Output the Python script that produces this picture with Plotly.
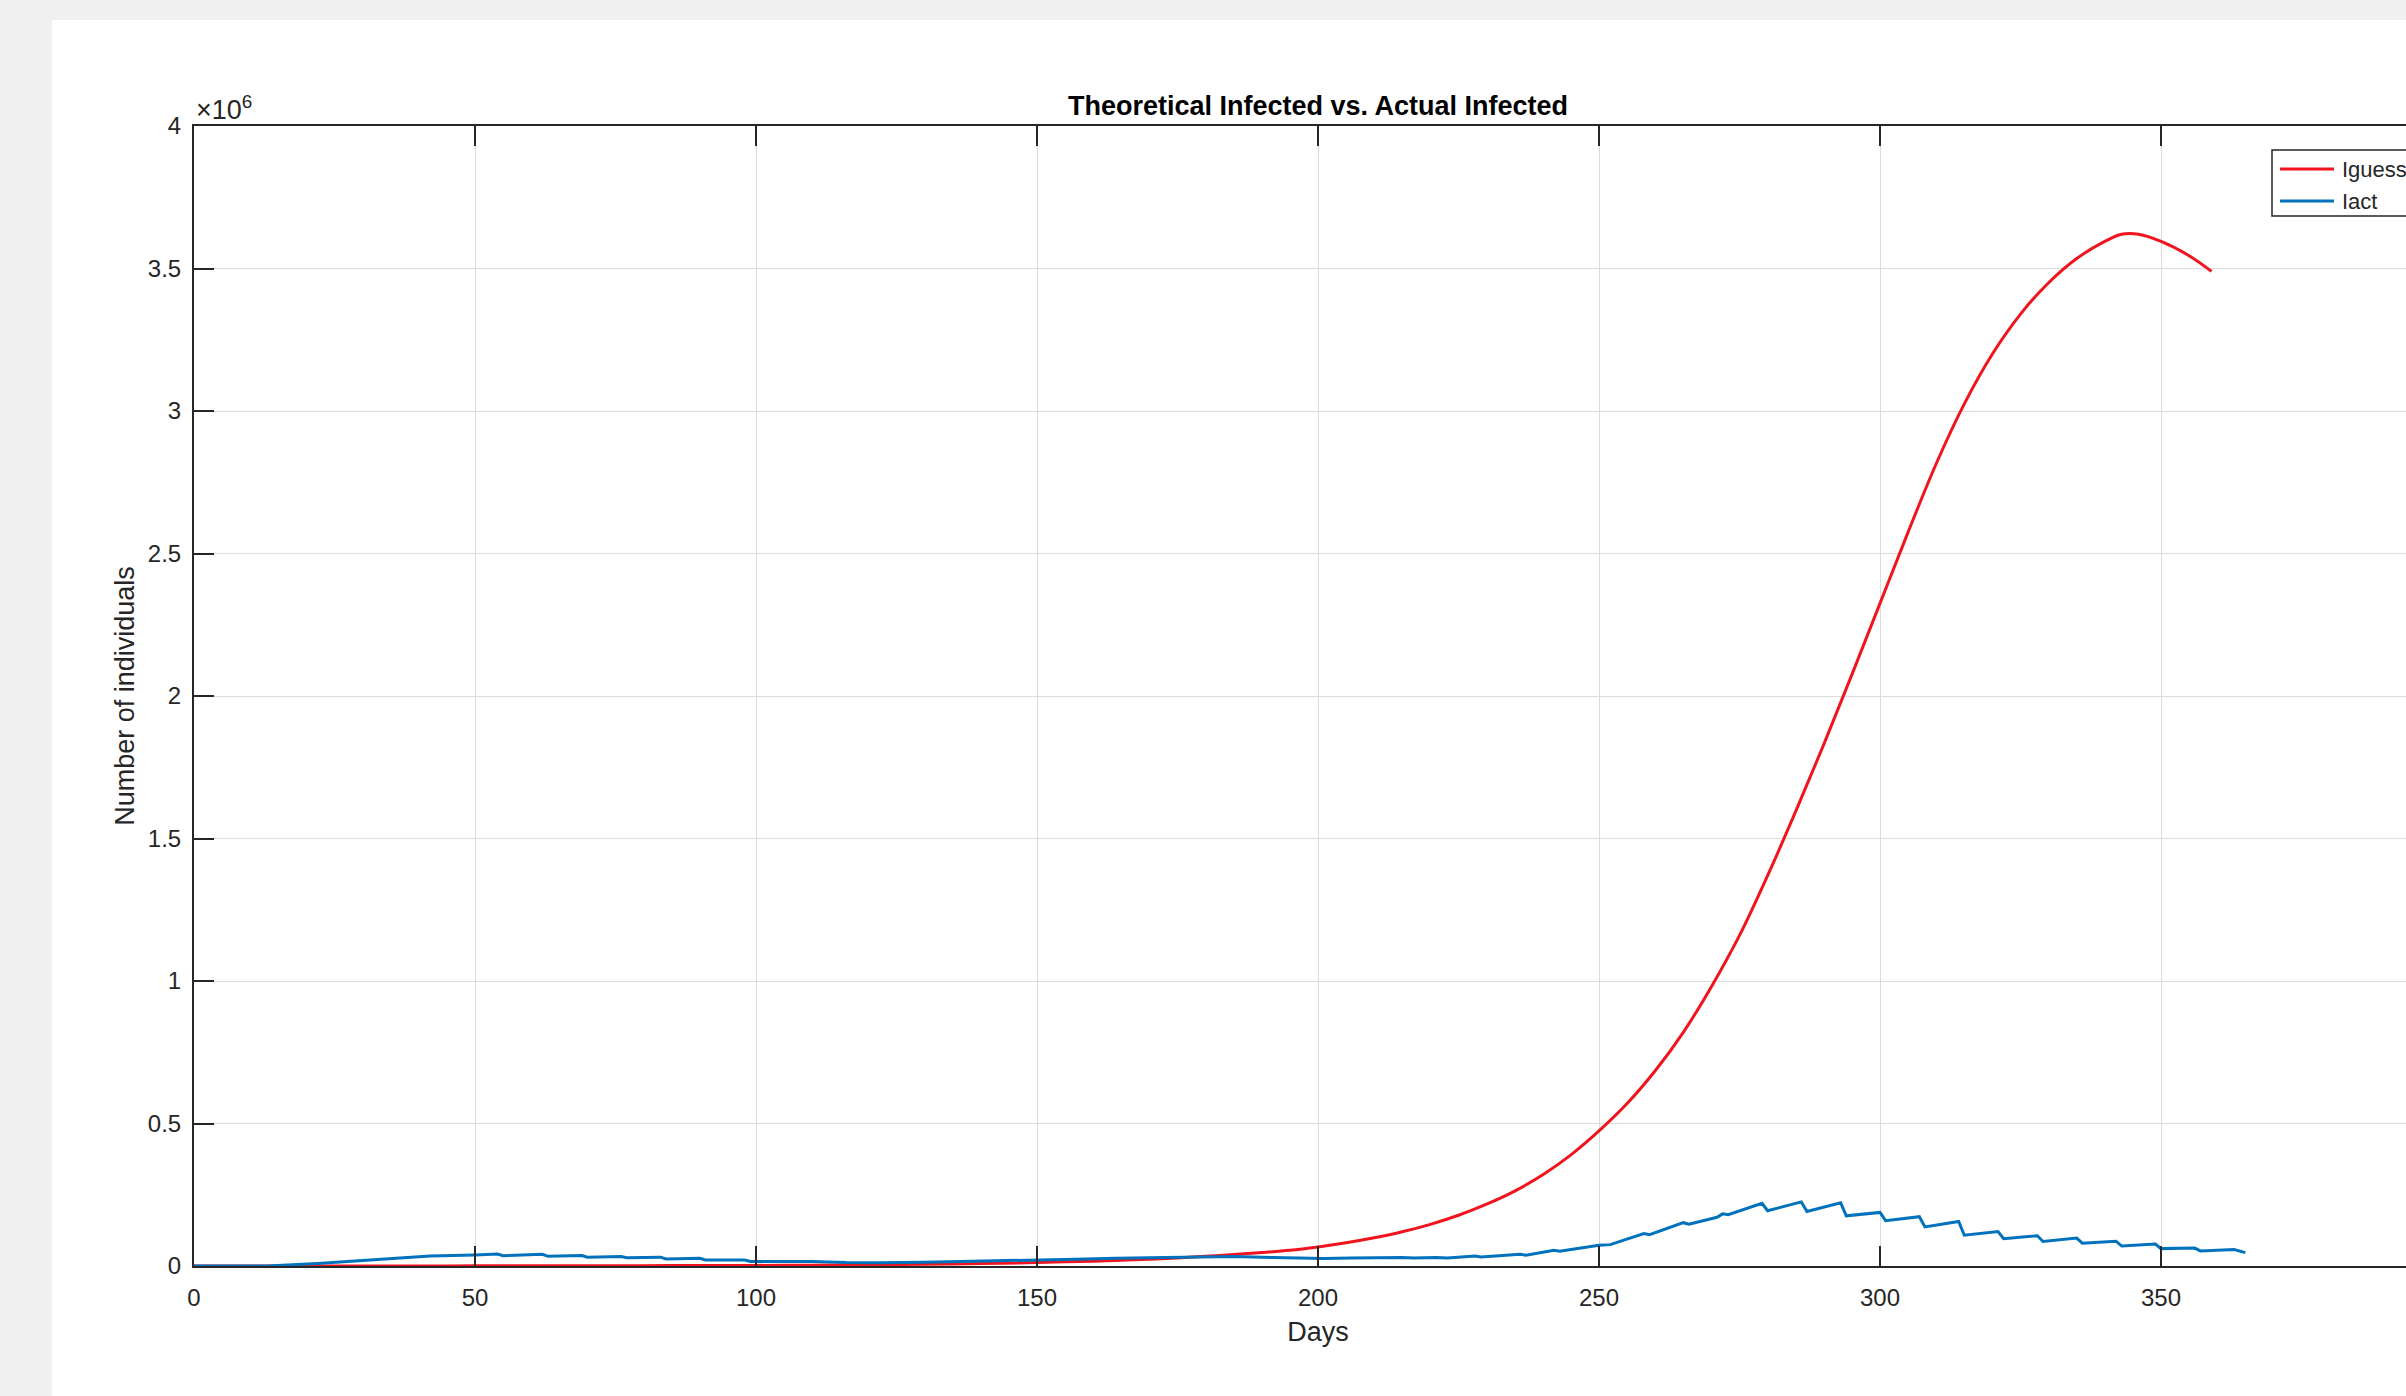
import plotly.graph_objects as go

# ---------------- data (values in millions of individuals) ----------------
guess_days = [0, 10, 20, 30, 40, 50, 60, 70, 80, 90, 100, 110, 120, 130, 140, 150, 155, 160,
              165, 170, 175, 180, 185, 190, 195, 200, 205, 210, 215, 220, 225, 230, 235, 240,
              245, 250, 255, 260, 265, 270, 275, 280, 285, 290, 295, 300, 305, 310, 315, 320,
              325, 330, 335, 340, 343, 346, 350, 355, 359]
guess_vals = [0.0, 0.0001, 0.0002, 0.0003, 0.0004, 0.0005, 0.0007, 0.0009, 0.0012, 0.0016,
              0.0021, 0.0030, 0.0043, 0.0060, 0.0085, 0.0120, 0.0145, 0.0170, 0.0200, 0.0240,
              0.0285, 0.0340, 0.0405, 0.0470, 0.0550, 0.0670, 0.0815, 0.0990, 0.1200, 0.1460,
              0.1780, 0.2170, 0.2630, 0.3200, 0.3900, 0.4740, 0.5700, 0.6850, 0.8200, 0.9800,
              1.1600, 1.3700, 1.5950, 1.8300, 2.0750, 2.3250, 2.5750, 2.8150, 3.0250, 3.2000,
              3.3400, 3.4500, 3.5350, 3.5950, 3.6200, 3.6200, 3.5950, 3.5450, 3.4900]

act_days = [0, 13, 22, 30, 35, 42, 50, 54, 55, 62, 63, 69, 70, 76, 77, 83, 84, 90, 91, 98,
            99, 105, 110, 116, 122, 130, 136, 143, 150, 157, 164, 171, 178, 185, 192, 196,
            201, 206, 210, 215, 217, 221, 223, 228, 229, 236, 237, 242, 243, 250, 252, 258,
            259, 265, 266, 271, 272, 273, 279, 280, 286, 287, 293, 294, 300, 301, 307, 308,
            314, 315, 321, 322, 328, 329, 335, 336, 342, 343, 349, 350, 356, 357, 363, 365]
act_vals = [0.0, 0.0, 0.009, 0.020, 0.027, 0.035, 0.039, 0.042, 0.036, 0.041, 0.034, 0.037,
            0.031, 0.033, 0.029, 0.031, 0.025, 0.027, 0.021, 0.021, 0.016, 0.017, 0.016,
            0.012, 0.011, 0.013, 0.016, 0.019, 0.022, 0.024, 0.027, 0.029, 0.031, 0.033,
            0.030, 0.028, 0.026, 0.028, 0.029, 0.030, 0.028, 0.030, 0.028, 0.035, 0.032,
            0.041, 0.038, 0.055, 0.052, 0.073, 0.075, 0.114, 0.110, 0.152, 0.147, 0.171,
            0.183, 0.180, 0.220, 0.194, 0.225, 0.191, 0.222, 0.176, 0.188, 0.159, 0.173,
            0.137, 0.156, 0.108, 0.121, 0.096, 0.106, 0.086, 0.098, 0.080, 0.087, 0.070,
            0.077, 0.061, 0.063, 0.053, 0.058, 0.047]

series_names = ["Iguess", "Iact"]
series_colors = ["#f0141e", "#0072bd"]

x_ticks = [0, 50, 100, 150, 200, 250, 300, 350]
y_ticks = [0, 0.5, 1, 1.5, 2, 2.5, 3, 3.5, 4]
y_ticktext = ["0", "0.5", "1", "1.5", "2", "2.5", "3", "3.5", "4"]

FONT = "Liberation Sans, Arial, Helvetica, sans-serif"
AX = "#262626"

fig = go.Figure()
fig.add_trace(go.Scatter(x=guess_days, y=guess_vals, mode="lines", name=series_names[0],
                         line=dict(color=series_colors[0], width=3, shape="spline", smoothing=1.0)))
fig.add_trace(go.Scatter(x=act_days, y=act_vals, mode="lines", name=series_names[1],
                         line=dict(color=series_colors[1], width=3)))

W, H = 2470, 1396
L, R, T, B = 194, 28, 126, 130
pw, ph = W - L - R, H - T - B


def px(xp):
    return (xp - L) / pw


def py(yp):
    return (H - B - yp) / ph


# white figure panel on grey window background
fig.add_shape(type="rect", xref="paper", yref="paper", layer="below",
              x0=px(52), x1=1.05, y0=-0.2, y1=py(20),
              fillcolor="white", line=dict(width=0))

# MATLAB-style legend box (extends past the right edge like the original)
fig.add_shape(type="rect", xref="paper", yref="paper", layer="above",
              x0=px(2272), x1=px(2462), y0=py(216), y1=py(150),
              fillcolor="white", line=dict(color=AX, width=1.5))
for i, (nm, col) in enumerate(zip(series_names, series_colors)):
    yy = 169 + 32 * i
    fig.add_shape(type="line", xref="paper", yref="paper", layer="above",
                  x0=px(2280), x1=px(2334), y0=py(yy), y1=py(yy),
                  line=dict(color=col, width=3))
    fig.add_annotation(xref="paper", yref="paper", x=px(2340), y=py(yy),
                       xanchor="left", yanchor="middle", showarrow=False,
                       text=nm, font=dict(family=FONT, size=22, color=AX))

axis_common = dict(showline=True, linecolor=AX, linewidth=2, mirror="ticks",
                   ticks="inside", ticklen=20, tickwidth=1.5, tickcolor=AX,
                   showgrid=True, gridcolor="#dcdcdc", gridwidth=1, zeroline=False,
                   tickfont=dict(family=FONT, size=24, color=AX))

fig.update_xaxes(range=[0, 400], tickvals=x_ticks, ticklabelstandoff=9,
                 title=dict(text="Days", font=dict(family=FONT, size=27, color=AX), standoff=12),
                 **axis_common)
fig.update_yaxes(range=[0, 4], tickvals=y_ticks, ticktext=y_ticktext, ticklabelstandoff=6,
                 title=dict(text="Number of individuals", font=dict(family=FONT, size=27, color=AX),
                            standoff=5),
                 **axis_common)

fig.add_annotation(xref="paper", yref="paper", x=px(194), y=py(108),
                   xanchor="left", yanchor="middle", showarrow=False,
                   text="×10<sup>6</sup>", font=dict(family=FONT, size=27, color=AX))

fig.update_layout(
    width=W, height=H,
    margin=dict(l=L, r=R, t=T, b=B, pad=0),
    paper_bgcolor="#f0f0f0", plot_bgcolor="white",
    title=dict(text="<b>Theoretical Infected vs. Actual Infected</b>", x=0.5, xref="paper",
               xanchor="center", y=1 - 105.5 / H, yref="container", yanchor="middle",
               font=dict(family=FONT, size=27, color="#000000")),
    showlegend=False,
)

post = ("document.body.style.margin='0';document.body.style.overflow='hidden';"
        "document.documentElement.style.overflow='hidden';"
        "document.body.style.background='#f0f0f0';")
fig.write_html("out.html", post_script=post, config={"displayModeBar": False})
